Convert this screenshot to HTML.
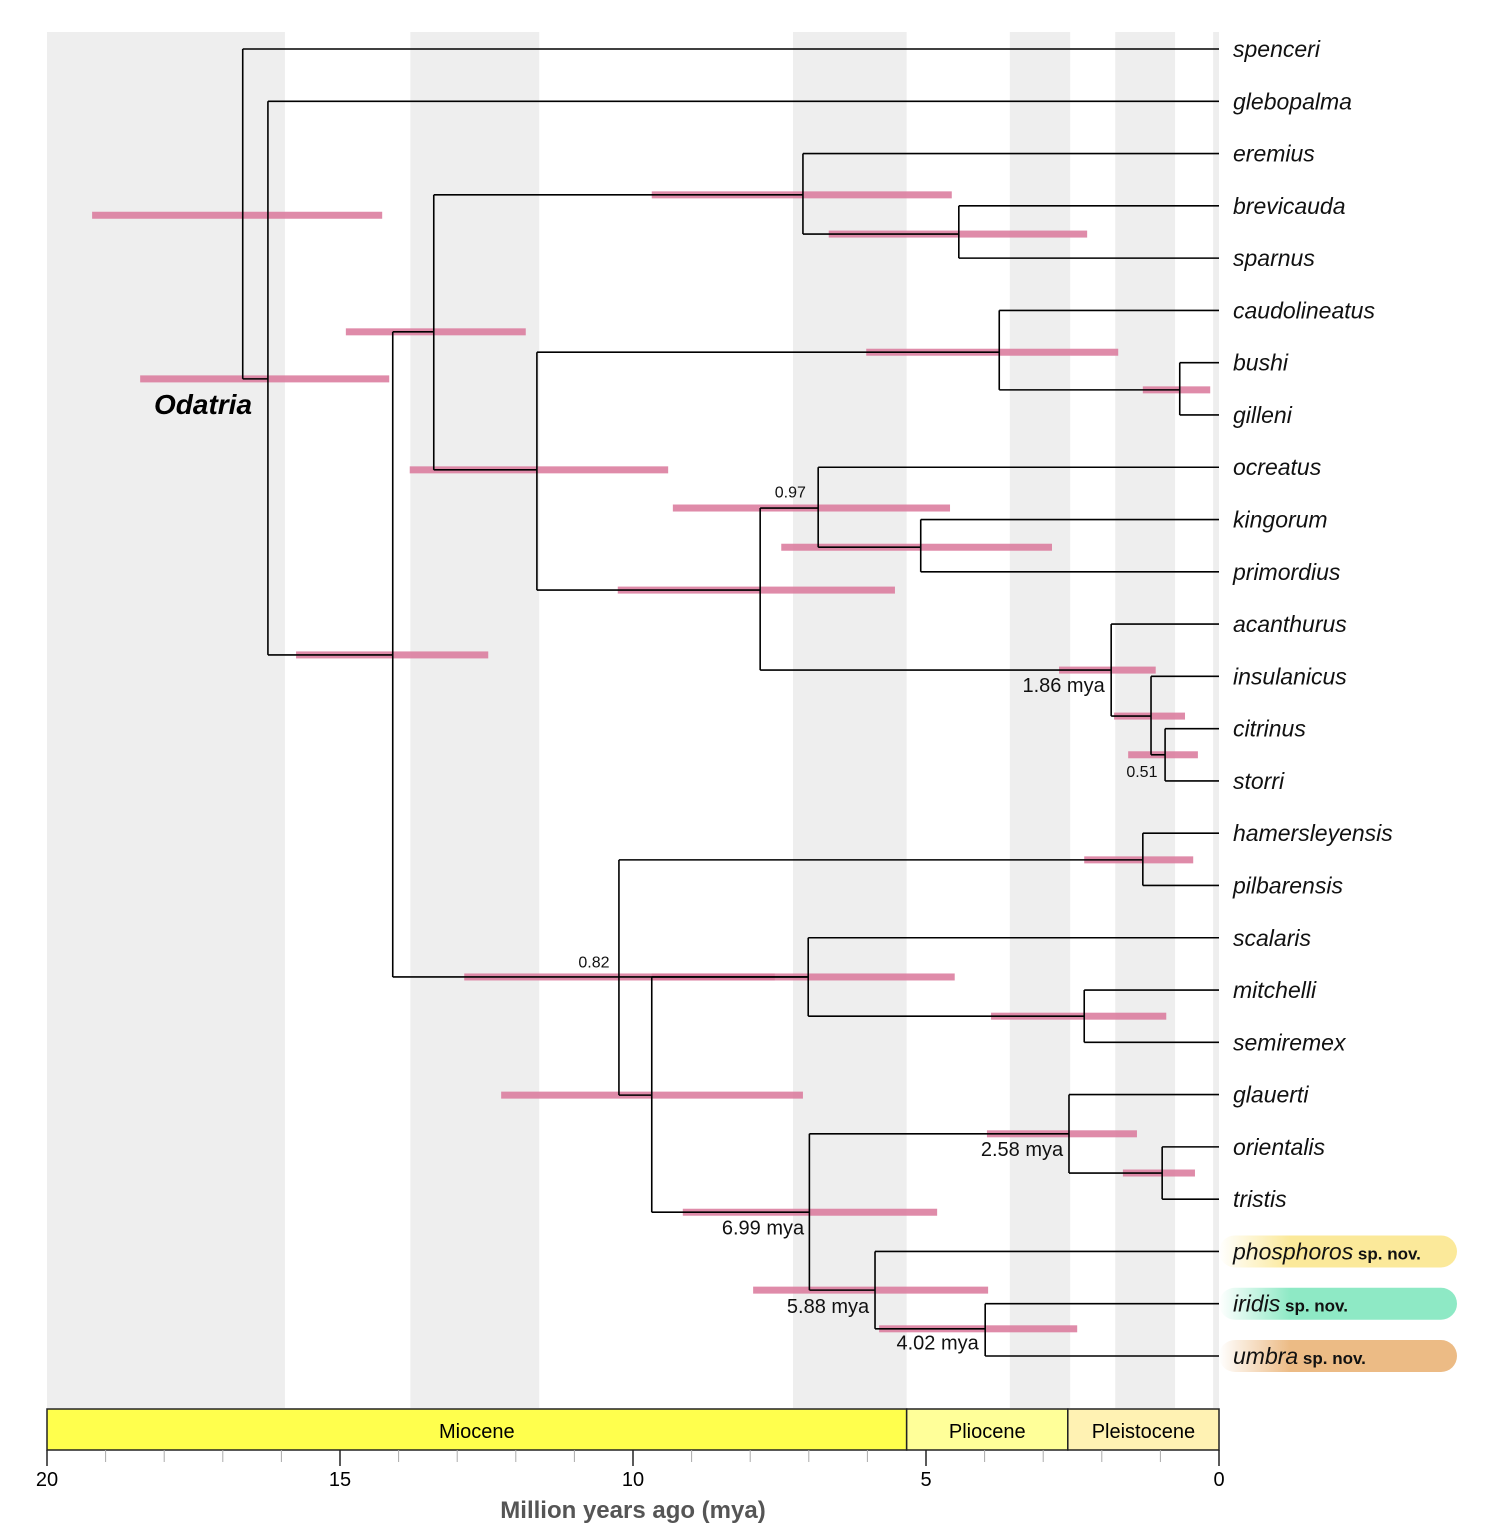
<!DOCTYPE html>
<html><head><meta charset="utf-8"><style>
body{margin:0;background:#fff}
svg{display:block;font-family:"Liberation Sans",sans-serif}
</style></head><body>
<svg id="c" width="1504" height="1526" viewBox="0 0 1504 1526"></svg>
<script>
const tipNames=["spenceri","glebopalma","eremius","brevicauda","sparnus","caudolineatus","bushi","gilleni","ocreatus","kingorum","primordius","acanthurus","insulanicus","citrinus","storri","hamersleyensis","pilbarensis","scalaris","mitchelli","semiremex","glauerti","orientalis","tristis","phosphoros","iridis","umbra"];
const newSpecies=[23,24,25];
const newColors=["#fbe99a","#8ee9c5","#ecbb85"];
const bandRanges=[[20,15.94],[13.8,11.6],[7.27,5.33],[3.57,2.54],[1.77,0.75],[0.1,0]];
const epochNames=["Miocene","Pliocene","Pleistocene"];
const epochRanges=[[20,5.33],[5.33,2.58],[2.58,0]];
const epochColors=["#ffff4d","#ffff99","#fff2b3"];
const majorTicks=[20,15,10,5,0];
const nodeIds=["A","B","C","D","E","F","G","H","I","J","K","L","M","N","O","P","Q","R","S","T","U","V","W","X","Y"];
const nodeAges={A:16.66,B:16.23,C:14.10,D:13.40,E:10.24,F:7.10,G:11.64,H:4.44,I:3.75,J:7.83,K:0.67,L:6.84,M:1.84,N:5.09,O:1.16,P:0.92,Q:1.30,R:9.68,S:7.01,T:2.30,U:6.99,V:2.56,W:5.87,X:0.97,Y:3.99};
const nodeKids={
A:[[0,null],[6.31,"B"]],
B:[[1,null],[11.59,"C"]],
C:[[5.41,"D"],[17.75,"S"]],
D:[[2.79,"F"],[8.05,"G"]],
E:[[15.51,"Q"],[20.01,"R"]],
F:[[2,null],[3.54,"H"]],
G:[[5.80,"I"],[10.35,"J"]],
H:[[3,null],[4,null]],
I:[[5,null],[6.52,"K"]],
J:[[8.78,"L"],[11.88,"M"]],
K:[[6,null],[7,null]],
L:[[8,null],[9.53,"N"]],
M:[[11,null],[12.76,"O"]],
N:[[9,null],[10,null]],
O:[[12,null],[13.50,"P"]],
P:[[13,null],[14,null]],
Q:[[15,null],[16,null]],
R:[[17.75,"S"],[22.25,"U"]],
S:[[17,null],[18.50,"T"]],
T:[[18,null],[19,null]],
U:[[20.75,"V"],[23.74,"W"]],
V:[[20,null],[21.50,"X"]],
W:[[23,null],[24.48,"Y"]],
X:[[21,null],[22,null]],
Y:[[24,null],[25,null]]};
const barY=[3.18,6.31,5.41,2.79,3.54,5.80,6.52,8.05,8.78,9.53,10.35,11.59,11.88,12.76,13.50,15.51,17.75,17.75,18.50,20.01,20.75,21.50,22.25,23.74,24.48];
const barLo=[19.23,18.41,14.90,9.68,6.66,6.02,1.30,13.81,9.32,7.47,10.26,15.75,2.73,1.79,1.55,2.30,12.88,9.68,3.89,12.25,3.96,1.64,9.15,7.95,5.80];
const barHi=[14.28,14.16,11.83,4.56,2.25,1.72,0.15,9.40,4.59,2.85,5.53,12.47,1.08,0.58,0.36,0.44,7.58,4.51,0.90,7.10,1.40,0.41,4.81,3.94,2.42];
const annText=["0.97","1.86 mya","0.51","0.82","2.58 mya","6.99 mya","5.88 mya","4.02 mya"];
const annAge=[7.05,1.95,1.05,10.4,2.66,7.08,5.97,4.1];
const annY=[8.46,12.18,13.81,17.45,21.06,22.56,24.06,24.76];
const annSize=[16,20,16,16,20,20,20,20];

const X=a=>1219-a*58.6, Y=i=>49+i*52.28;
const svg=document.getElementById('c');const NS="http://www.w3.org/2000/svg";
function mk(t,at,name,parent){const e=document.createElementNS(NS,t);for(const k in at)e.setAttribute(k,at[k]);


(parent||svg).appendChild(e);return e;}
const defs=mk('defs',{},'defs');
newColors.forEach((c,i)=>{const g=mk('linearGradient',{id:'g'+i,x1:0,x2:1,y1:0,y2:0},'gradient',defs);
mk('stop',{offset:0,'stop-color':'#fff'},'stop',g);mk('stop',{offset:0.3,'stop-color':c},'stop',g);});
bandRanges.forEach(r=>mk('rect',{x:X(r[0]),y:32,width:X(r[1])-X(r[0]),height:1376,fill:'#eeeeee'},'time-band'));
barY.forEach((y,i)=>mk('rect',{x:X(barLo[i]),y:Y(y)-3.5,width:X(barHi[i])-X(barLo[i]),height:7,fill:'#d9779a','fill-opacity':0.85},'hpd-bar'));
nodeIds.forEach(id=>{const a=nodeAges[id],k=nodeKids[id];const ys=k.map(c=>c[0]);
mk('line',{x1:X(a),x2:X(a),y1:Y(Math.min(...ys)),y2:Y(Math.max(...ys)),stroke:'#000','stroke-width':1.6},'node-'+id+'-vertical');
k.forEach(c=>{const to=c[1]?nodeAges[c[1]]:0;mk('line',{x1:X(a),x2:X(to),y1:Y(c[0]),y2:Y(c[0]),stroke:'#000','stroke-width':1.6},'branch');});});
newSpecies.forEach((t,i)=>mk('rect',{x:1219,y:Y(t)-16,width:238,height:32,rx:16,fill:'url(#g'+i+')'},'sp-nov-highlight'));
tipNames.forEach((n,i)=>{const tx=mk('text',{x:1233,y:Y(i)+8,'font-size':23,'font-style':'italic',fill:'#111'},'tip-label-'+n);tx.textContent=n;
if(newSpecies.includes(i)){const s=mk('tspan',{'font-style':'normal','font-weight':'bold','font-size':17},'sp-nov');s.textContent=' sp. nov.';tx.appendChild(s);}});
annText.forEach((t,i)=>{const tx=mk('text',{x:X(annAge[i]),y:Y(annY[i])+6,'font-size':annSize[i],'text-anchor':'end',fill:'#111'},'node-age-label');tx.textContent=t;});
const od=mk('text',{x:154,y:414,'font-size':28,'font-weight':'bold','font-style':'italic'},'clade-label');od.textContent='Odatria';
epochNames.forEach((n,i)=>{const r=epochRanges[i];mk('rect',{x:X(r[0]),y:1409,width:X(r[1])-X(r[0]),height:41,fill:epochColors[i],stroke:'#222','stroke-width':1.5},'epoch-'+n);
const t=mk('text',{x:(X(r[0])+X(r[1]))/2,y:1438,'font-size':20,'text-anchor':'middle'},'epoch-label');t.textContent=n;});
for(let a=0;a<=20;a++){const M=majorTicks.includes(a);mk('line',{x1:X(a),x2:X(a),y1:1450,y2:M?1466:1462,stroke:M?'#222':'#aaa','stroke-width':M?1.5:1},'x-tick');}
majorTicks.forEach(a=>{const t=mk('text',{x:X(a),y:1486,'font-size':20,'text-anchor':'middle'},'x-tick-label');t.textContent=a;});
const ti=mk('text',{x:633,y:1518,'font-size':24,'font-weight':'bold','text-anchor':'middle',fill:'#555'},'x-axis-title');ti.textContent='Million years ago (mya)';
</script></body></html>
